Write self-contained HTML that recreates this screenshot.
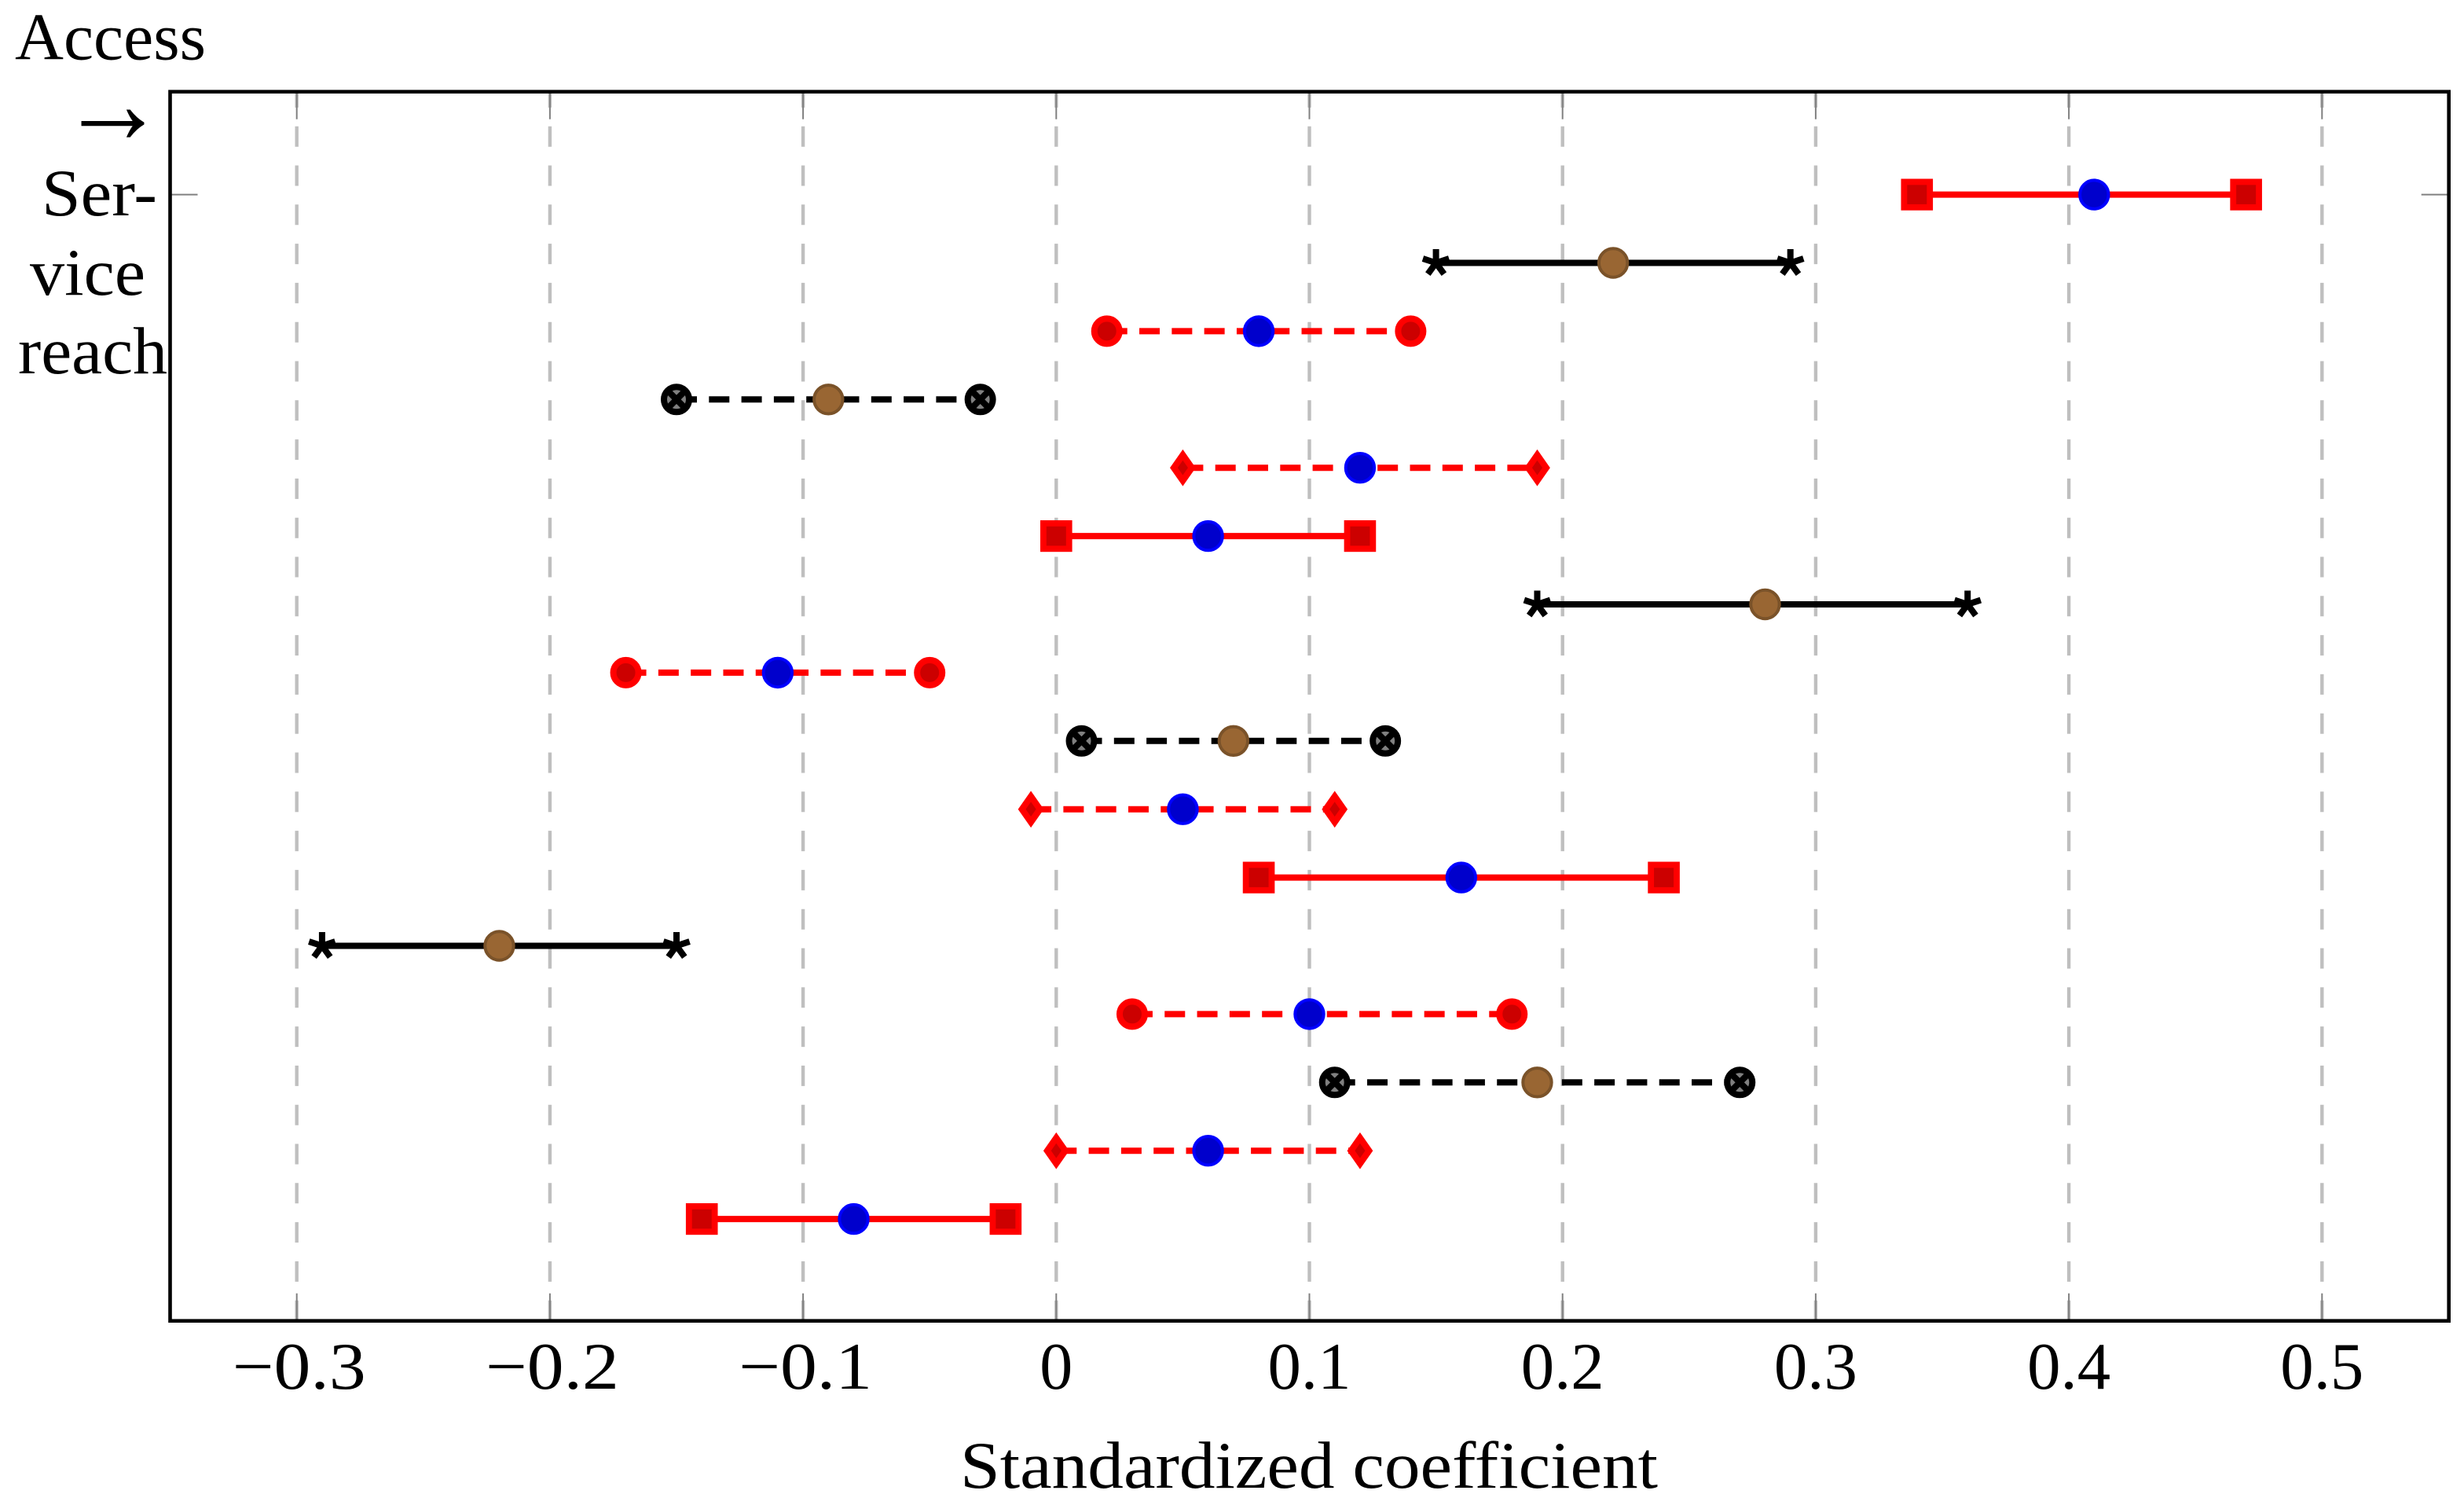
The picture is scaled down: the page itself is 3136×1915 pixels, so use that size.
<!DOCTYPE html>
<html lang="en">
<head>
<meta charset="utf-8">
<title>Standardized coefficient chart</title>
<style>
  html, body { margin: 0; padding: 0; background: #ffffff; }
  svg { display: block; }
  text { font-family: "Liberation Serif", serif; font-size: 85px; fill: #000000; }
</style>
</head>
<body>
<svg id="chart" xmlns="http://www.w3.org/2000/svg" width="3136" height="1915" viewBox="0 0 3136 1915">
  <rect x="0" y="0" width="3136" height="1915" fill="#ffffff"/>
  <g id="grid"></g>
  <g id="ticks"></g>
  <g id="series"></g>
  <rect x="216.5" y="116.7" width="2900.2" height="1564" fill="none" stroke="#000000" stroke-width="4.6"/>
  <g id="tick-labels"></g>
  <g>
    <text x="19" y="75.7" textLength="243" lengthAdjust="spacingAndGlyphs">Access</text>
    <text x="76" y="182" textLength="135" lengthAdjust="spacingAndGlyphs" style="font-size:150px">→</text>
    <text x="53" y="274" textLength="147" lengthAdjust="spacingAndGlyphs">Ser-</text>
    <text x="38" y="375" textLength="147" lengthAdjust="spacingAndGlyphs">vice</text>
    <text x="23" y="475" textLength="190" lengthAdjust="spacingAndGlyphs">reach</text>
  </g>
  <text x="1222" y="1893" textLength="888" lengthAdjust="spacingAndGlyphs">Standardized coefficient</text>
</svg>
<script>
const xTicks = [-0.3, -0.2, -0.1, 0, 0.1, 0.2, 0.3, 0.4, 0.5];
const xTickLabels = ['−0.3', '−0.2', '−0.1', '0', '0.1', '0.2', '0.3', '0.4', '0.5'];
const yRows = [0, 1, 2, 3, 4, 5, 6, 7, 8, 9, 10, 11, 12, 13, 14, 15];
const lowValues = [0.34, 0.15, 0.02, -0.15, 0.05, 0, 0.19, -0.17, 0.01, -0.01, 0.08, -0.29, 0.03, 0.11, 0, -0.14];
const midValues = [0.41, 0.22, 0.08, -0.09, 0.12, 0.06, 0.28, -0.11, 0.07, 0.05, 0.16, -0.22, 0.10, 0.19, 0.06, -0.08];
const highValues = [0.47, 0.29, 0.14, -0.03, 0.19, 0.12, 0.36, -0.05, 0.13, 0.11, 0.24, -0.15, 0.18, 0.27, 0.12, -0.02];
const markerKinds = ['square', 'star', 'circle', 'otimes', 'diamond', 'square', 'star', 'circle', 'otimes', 'diamond', 'square', 'star', 'circle', 'otimes', 'diamond', 'square'];

const SVG_NS = 'http://www.w3.org/2000/svg';
function xScale(v) { return 1344.3 + 3222 * v; }
function yScale(row) { return 247.6 + 86.9 * row; }
function make(tag, attrs, parent) {
  const el = document.createElementNS(SVG_NS, tag);
  for (const k in attrs) el.setAttribute(k, attrs[k]);
  parent.appendChild(el);
  return el;
}
const PLOT_TOP = 116.7, PLOT_BOTTOM = 1680.7, PLOT_LEFT = 216.5, PLOT_RIGHT = 3116.7;
const gridLayer = document.getElementById('grid');
const tickLayer = document.getElementById('ticks');
const labelLayer = document.getElementById('tick-labels');
const seriesLayer = document.getElementById('series');

xTicks.forEach(function (t, i) {
  const x = xScale(t);
  const g = make('line', { x1: x, x2: x, y1: PLOT_BOTTOM, y2: PLOT_TOP, stroke: '#bfbfbf', 'stroke-width': 4.4, 'stroke-dasharray': '26 23.8' }, gridLayer);
  
  
  const tb = make('line', { x1: x, x2: x, y1: PLOT_BOTTOM, y2: PLOT_BOTTOM - 35, stroke: '#808080', 'stroke-width': 2 }, tickLayer);
  
  
  const tt = make('line', { x1: x, x2: x, y1: PLOT_TOP, y2: PLOT_TOP + 35, stroke: '#808080', 'stroke-width': 2 }, tickLayer);
  
  
  const neg = t < 0;
  const width = neg ? 170 : (t === 0 ? 42 : 106);
  const left = x - width / 2 + (neg ? 3 : 0);
  const lab = make('text', { x: left, y: 1767, textLength: width, lengthAdjust: 'spacingAndGlyphs' }, labelLayer);
  lab.textContent = xTickLabels[i];
  
  
});

const yTickLeft = make('line', { x1: PLOT_LEFT, x2: PLOT_LEFT + 35, y1: yScale(0), y2: yScale(0), stroke: '#808080', 'stroke-width': 2 }, tickLayer);


const yTickRight = make('line', { x1: PLOT_RIGHT, x2: PLOT_RIGHT - 35, y1: yScale(0), y2: yScale(0), stroke: '#808080', 'stroke-width': 2 }, tickLayer);



const RED = '#ff0000', RED_FILL = '#cc0000', BLACK = '#000000', GREY = '#808080';
const kindLine = { square: [RED, false], star: [BLACK, false], circle: [RED, true], otimes: [BLACK, true], diamond: [RED, true] };

function drawEnd(kind, cx, cy, parent) {
  const g = make('g', { transform: 'translate(' + cx + ' ' + cy + ')' }, parent);
  if (kind === 'square') {
    make('rect', { x: -16.4, y: -16.2, width: 32.8, height: 32.4, fill: RED_FILL, stroke: RED, 'stroke-width': 7.8 }, g);
  } else if (kind === 'circle') {
    make('circle', { r: 16, fill: RED_FILL, stroke: RED, 'stroke-width': 8 }, g);
  } else if (kind === 'diamond') {
    make('path', { d: 'M0 -16.4 L11.5 0 L0 16.4 L-11.5 0 Z', fill: RED_FILL, stroke: RED, 'stroke-width': 8, 'stroke-miterlimit': 10 }, g);
  } else if (kind === 'otimes') {
    make('circle', { r: 16, fill: GREY, stroke: BLACK, 'stroke-width': 8 }, g);
    make('path', { d: 'M-12 -12 L12 12 M-12 12 L12 -12', fill: 'none', stroke: BLACK, 'stroke-width': 8 }, g);
  } else {
    let d = '';
    for (let a = 0; a < 5; a++) {
      const th = a * 2 * Math.PI / 5;
      d += 'M0 0 L' + (17.5 * Math.sin(th)).toFixed(2) + ' ' + (-17.5 * Math.cos(th)).toFixed(2) + ' ';
    }
    make('path', { d: d, fill: 'none', stroke: BLACK, 'stroke-width': 8 }, g);
  }
  return g;
}

yRows.forEach(function (row, i) {
  const kind = markerKinds[i];
  const y = yScale(row);
  const xl = xScale(lowValues[i]), xm = xScale(midValues[i]), xh = xScale(highValues[i]);
  const style = kindLine[kind];
  const group = make('g', {}, seriesLayer);
  
  
  const attrs = { x1: xl, x2: xh, y1: y, y2: y, stroke: style[0], 'stroke-width': 8 };
  if (style[1]) attrs['stroke-dasharray'] = '26 15.3';
  const ln = make('line', attrs, group);
  
  
  const lo = drawEnd(kind, xl, y, group);
  
  
  const hi = drawEnd(kind, xh, y, group);
  
  
  const isRed = style[0] === RED;
  const mid = make('circle', { cx: xm, cy: y, r: 18.2, fill: isRed ? '#0000cc' : '#996633', stroke: isRed ? '#0000ff' : '#7a5229', 'stroke-width': 4 }, group);
  
  
});
</script>
</body>
</html>
